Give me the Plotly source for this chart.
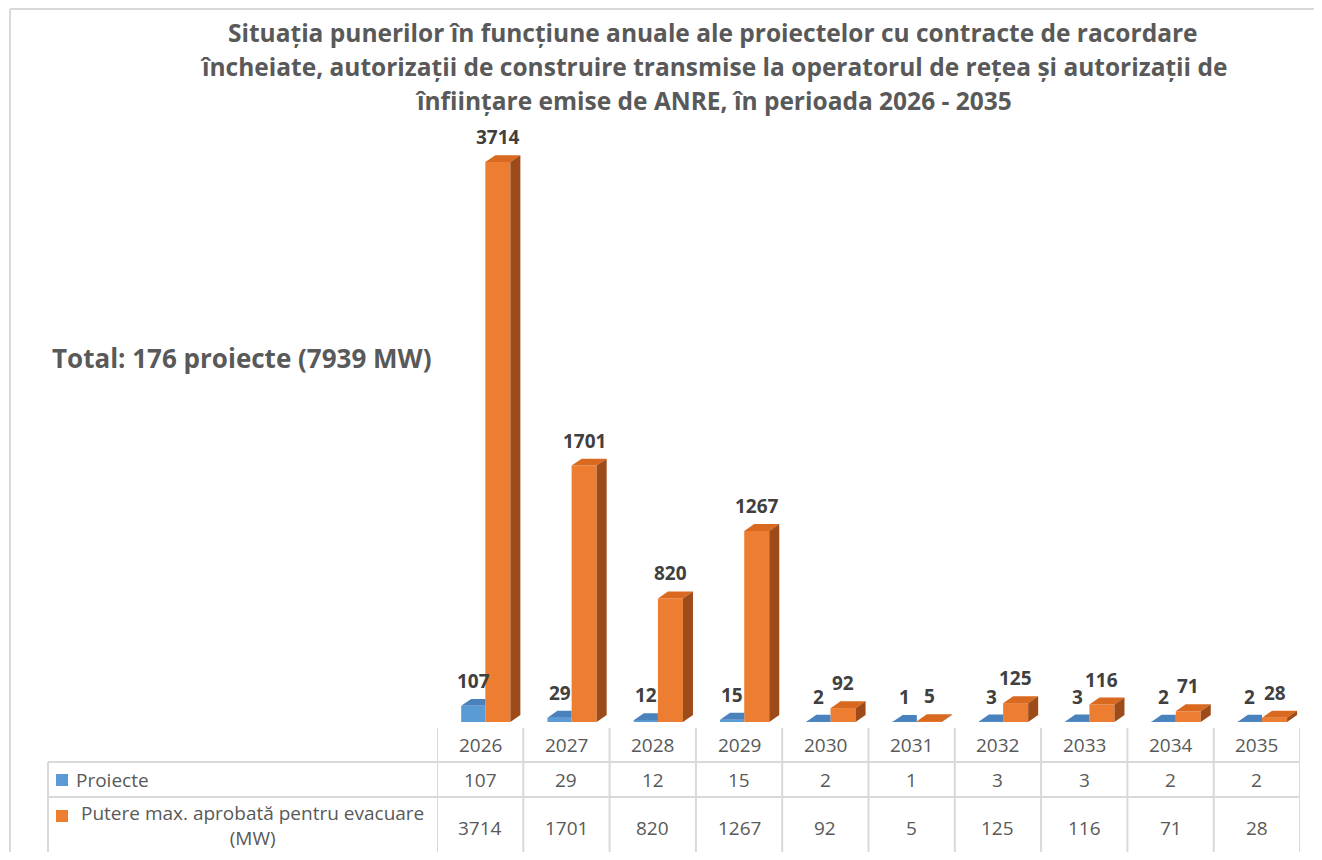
import plotly.graph_objects as go


ANI = ["2026", "2027", "2028", "2029", "2030", "2031", "2032", "2033", "2034", "2035"]
PROIECTE = [107, 29, 12, 15, 2, 1, 3, 3, 2, 2]
PUTERE = [3714, 1701, 820, 1267, 92, 5, 125, 116, 71, 28]

TITLU = [
    "Situația punerilor în funcțiune anuale ale proiectelor cu contracte de racordare",
    "încheiate, autorizații de construire transmise la operatorul de rețea și autorizații de",
    "înființare emise de ANRE, în perioada 2026 - 2035",
]
TOTAL = "Total: 176 proiecte (7939 MW)"
SERII = ["Proiecte", "Putere max. aprobată pentru evacuare<br>(MW)"]

ALBASTRU = "#5b9bd5"
ALBASTRU_SUS = "#4a82bd"
PORTOCALIU = "#ed7d31"
PORTOCALIU_SUS = "#d9691f"
PORTOCALIU_LATURA = "#9e4b1a"
GRI_TEXT = "#595959"
GRI_LINIE = "#d9d9d9"
FONT = "Open Sans"

# The page adds an 8 px body margin, so the figure is a bit smaller
# than the window and every page position is shifted by 8 px.
M = 8
W, H = 1322 - 2 * M, 860 - 2 * M
# Plot area in page pixels: x 437..1300, y 119..722.
L, R = 437 - M, W - (1300 - M)
T, B = 119 - M, H - (722 - M)
PW, PH = W - L - R, H - T - B

# Column geometry in category units, depth of the fake 3D effect.
OFF_A, LAT_A = -0.22, 0.28
OFF_P, LAT_P = 0.06, 0.29
DX, DY = 0.116, 46


def px_x(px):
    return (px - M - L) / PW


def px_y(py):
    return (H - B - (py - M)) / PH


def fete_sus(valori, off, lat, taiat=False):
    """Top faces of the columns; 'taiat' cuts them at the right edge."""
    xs, ys = [], []
    for i, v in enumerate(valori):
        st, dr = i + off, i + off + lat
        if taiat:
            xs += [st, dr, dr, st + DX, st, None]
        else:
            xs += [st, dr, dr + DX, st + DX, st, None]
        ys += [v, v, v + DY, v + DY, v, None]
    return xs, ys


def fete_laterale(valori, off, lat):
    xs, ys = [], []
    for i, v in enumerate(valori):
        dr = i + off + lat
        xs += [dr, dr + DX, dr + DX, dr, dr, None]
        ys += [0, DY, v + DY, v, 0, None]
    return xs, ys


def text_paper(text, x, y, size=19, xanchor="center", bold=False):
    return dict(
        x=px_x(x),
        y=px_y(y),
        xref="paper",
        yref="paper",
        xanchor=xanchor,
        yanchor="middle",
        align="center",
        text=f"<b>{text}</b>" if bold else text,
        showarrow=False,
        font=dict(size=size, color=GRI_TEXT, family=FONT),
    )


def main():
    idx = list(range(len(ANI)))
    fig = go.Figure()

    fig.add_trace(
        go.Bar(
            x=idx,
            y=PROIECTE,
            width=LAT_A,
            offset=OFF_A,
            marker_color=ALBASTRU,
            marker_line_width=0,
            name="Proiecte",
        )
    )
    fig.add_trace(
        go.Bar(
            x=idx,
            y=PUTERE,
            width=LAT_P,
            offset=OFF_P,
            marker_color=PORTOCALIU,
            marker_line_width=0,
            name="Putere",
        )
    )

    xs, ys = fete_sus(PROIECTE, OFF_A, LAT_A, taiat=True)
    fig.add_trace(
        go.Scatter(
            x=xs, y=ys, fill="toself", fillcolor=ALBASTRU_SUS,
            mode="none", hoverinfo="skip",
        )
    )
    xs, ys = fete_sus(PUTERE, OFF_P, LAT_P)
    fig.add_trace(
        go.Scatter(
            x=xs, y=ys, fill="toself", fillcolor=PORTOCALIU_SUS,
            mode="none", hoverinfo="skip",
        )
    )
    xs, ys = fete_laterale(PUTERE, OFF_P, LAT_P)
    fig.add_trace(
        go.Scatter(
            x=xs, y=ys, fill="toself", fillcolor=PORTOCALIU_LATURA,
            mode="none", hoverinfo="skip",
        )
    )

    adnotari = []

    # Data labels above each column.
    for i in idx:
        for val, off, lat in [(PROIECTE[i], OFF_A, LAT_A), (PUTERE[i], OFF_P, LAT_P)]:
            adnotari.append(
                dict(
                    x=i + off + lat / 2,
                    y=val + DY,
                    xref="x",
                    yref="y",
                    xanchor="center",
                    yanchor="bottom",
                    yshift=3,
                    text=f"<b>{val}</b>",
                    showarrow=False,
                    font=dict(size=19, color="#404040", family=FONT),
                )
            )

    # Data table under the chart.
    for i in idx:
        for rand, yv in [(ANI, 745), (PROIECTE, 780), (PUTERE, 828)]:
            adnotari.append(
                dict(
                    x=i,
                    y=px_y(yv),
                    xref="x",
                    yref="paper",
                    xanchor="center",
                    yanchor="middle",
                    text=str(rand[i]),
                    showarrow=False,
                    font=dict(size=19, color=GRI_TEXT, family=FONT),
                )
            )

    adnotari.append(text_paper(SERII[0], 74, 780, xanchor="left"))
    adnotari.append(text_paper(SERII[1], 252, 825))
    adnotari.append(text_paper(TOTAL, 50, 358, size=26, xanchor="left", bold=True))

    # Title, one line at a time to keep Excel's line spacing.
    for linie_titlu, yv in zip(TITLU, [33, 67, 100]):
        adnotari.append(text_paper(linie_titlu, 713, yv, size=24.5, bold=True))

    forme = []
    linie = dict(color=GRI_LINIE, width=2)

    for i in range(len(ANI) + 1):
        forme.append(
            dict(type="line", xref="x", yref="paper", x0=i - 0.5, x1=i - 0.5,
                 y0=px_y(728), y1=px_y(870), line=linie)
        )
    for yv in [762, 797]:
        forme.append(
            dict(type="line", xref="paper", yref="paper", x0=px_x(48), x1=1,
                 y0=px_y(yv), y1=px_y(yv), line=linie)
        )
    forme.append(
        dict(type="line", xref="paper", yref="paper", x0=px_x(48), x1=px_x(48),
             y0=px_y(762), y1=px_y(870), line=linie)
    )

    # Outer chart border.
    forme.append(
        dict(type="line", xref="paper", yref="paper", x0=px_x(10), x1=px_x(10),
             y0=px_y(9), y1=px_y(870), line=linie)
    )
    forme.append(
        dict(type="line", xref="paper", yref="paper", x0=px_x(10), x1=px_x(1330),
             y0=px_y(9), y1=px_y(9), line=linie)
    )

    # Legend keys in the table.
    for culoare, yc in [(ALBASTRU, 780), (PORTOCALIU, 816)]:
        forme.append(
            dict(type="rect", xref="paper", yref="paper",
                 x0=px_x(56), x1=px_x(68), y0=px_y(yc - 6), y1=px_y(yc + 6),
                 fillcolor=culoare, line_width=0)
        )

    fig.update_xaxes(
        range=[-0.5, len(ANI) - 0.5],
        showticklabels=False,
        showgrid=False,
        zeroline=False,
        showline=False,
        fixedrange=True,
    )
    fig.update_yaxes(range=[0, 4000], visible=False, fixedrange=True)

    fig.update_layout(
        width=W,
        height=H,
        showlegend=False,
        barmode="overlay",
        plot_bgcolor="white",
        paper_bgcolor="white",
        font_family=FONT,
        margin=dict(l=L, r=R, t=T, b=B, pad=0),
        annotations=adnotari,
        shapes=forme,
    )

    fig.write_html("out.html")


if __name__ == "__main__":
    main()
